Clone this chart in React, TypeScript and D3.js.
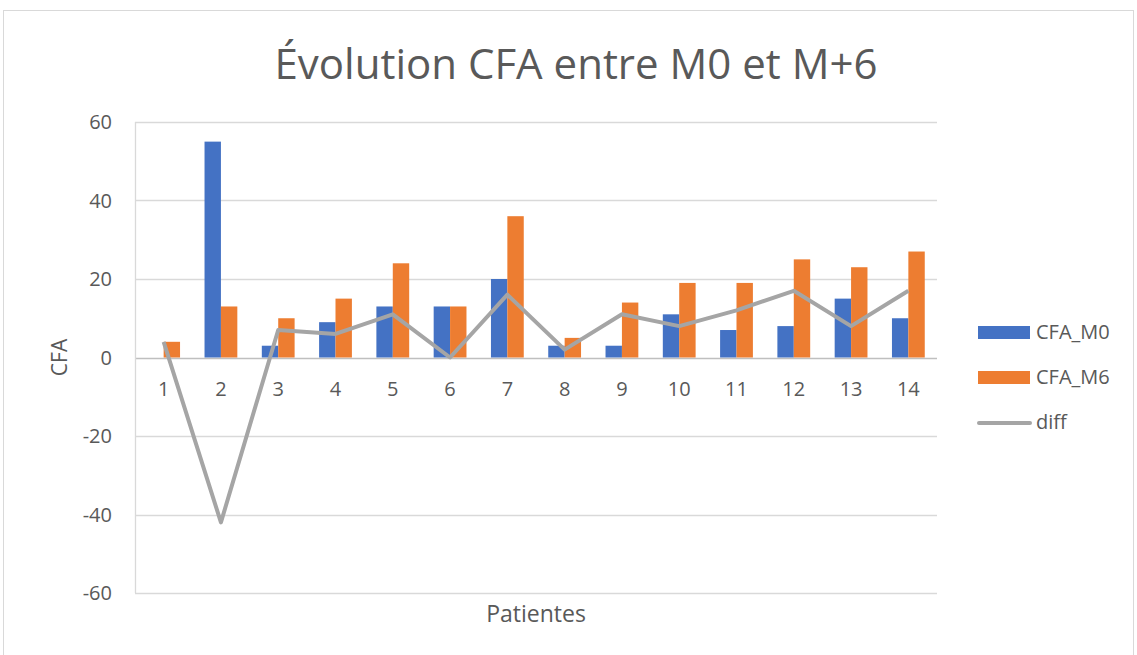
import React, { useEffect, useRef } from 'react'
import * as d3 from 'd3'

// patients 1..14
const patientes = ['1', '2', '3', '4', '5', '6', '7', '8', '9', '10', '11', '12', '13', '14']
const cfaM0 = [0, 55, 3, 9, 13, 13, 20, 3, 3, 11, 7, 8, 15, 10]
const cfaM6 = [4, 13, 10, 15, 24, 13, 36, 5, 14, 19, 19, 25, 23, 27]
const diff = [4, -42, 7, 6, 11, 0, 16, 2, 11, 8, 12, 17, 8, 17]
const yTicks = [-60, -40, -20, 0, 20, 40, 60]

const legendItems = [
  { name: 'CFA_M0', color: '#4472c4', type: 'bar' },
  { name: 'CFA_M6', color: '#ed7d31', type: 'bar' },
  { name: 'diff', color: '#a5a5a5', type: 'line' },
]

export default function App() {
  const ref = useRef<SVGSVGElement>(null)

  useEffect(() => {
    const W = 1137, H = 655
    const margin = { top: 122, right: 200, bottom: 62, left: 135 }
    const width = W - margin.left - margin.right
    const height = H - margin.top - margin.bottom
    const font = '"Open Sans", sans-serif'
    const textColor = '#595959'

    const svg = d3.select(ref.current)
    svg.selectAll('*').remove()

    // chart frame
    svg.append('rect')
      .attr('x', 3.5).attr('y', 10.5)
      .attr('width', W - 7).attr('height', H)
      .attr('fill', '#fff').attr('stroke', '#d9d9d9')

    svg.append('text')
      .attr('x', 576).attr('y', 79)
      .attr('text-anchor', 'middle')
      .attr('font-family', font).attr('font-size', 42)
      .attr('fill', textColor)
      .text('Évolution CFA entre M0 et M+6')

    const g = svg.append('g').attr('transform', `translate(${margin.left},${margin.top})`)

    const x = d3.scaleBand().domain(patientes).range([0, width])
    const y = d3.scaleLinear().domain([-60, 60]).range([height, 0])

    const barW = 16.4

    // gridlines
    g.selectAll('line.grid')
      .data(yTicks)
      .enter()
      .append('line')
      .attr('x1', 0).attr('x2', width)
      .attr('y1', d => Math.round(y(d)) + 0.5).attr('y2', d => Math.round(y(d)) + 0.5)
      .attr('stroke', d => d === 0 ? '#bfbfbf' : '#d9d9d9')
      .attr('stroke-width', d => d === 0 ? 1.5 : 1.3)

    // left axis line
    g.append('line')
      .attr('x1', 0.5).attr('x2', 0.5)
      .attr('y1', 0).attr('y2', height)
      .attr('stroke', '#d9d9d9').attr('stroke-width', 1.3)

    g.selectAll('text.ytick')
      .data(yTicks)
      .enter()
      .append('text')
      .attr('x', -23).attr('y', d => y(d) + 7)
      .attr('text-anchor', 'end')
      .attr('font-family', font).attr('font-size', 20)
      .attr('fill', textColor)
      .text(d => d)

    // bars
    patientes.forEach((p, i) => {
      const cx = (x(p) as number) + x.bandwidth() / 2
      g.append('rect')
        .attr('x', cx - barW)
        .attr('y', y(Math.max(0, cfaM0[i])))
        .attr('width', barW)
        .attr('height', Math.abs(y(cfaM0[i]) - y(0)))
        .attr('fill', '#4472c4')
      g.append('rect')
        .attr('x', cx)
        .attr('y', y(Math.max(0, cfaM6[i])))
        .attr('width', barW)
        .attr('height', Math.abs(y(cfaM6[i]) - y(0)))
        .attr('fill', '#ed7d31')
    })

    // category labels just under the zero line
    g.selectAll('text.xtick')
      .data(patientes)
      .enter()
      .append('text')
      .attr('x', d => (x(d) as number) + x.bandwidth() / 2)
      .attr('y', y(0) + 38)
      .attr('text-anchor', 'middle')
      .attr('font-family', font).attr('font-size', 20)
      .attr('fill', textColor)
      .text(d => d)

    const line = d3.line<number>()
      .x((d, i) => (x(patientes[i]) as number) + x.bandwidth() / 2)
      .y(d => y(d))

    g.append('path')
      .datum(diff)
      .attr('d', line)
      .attr('fill', 'none')
      .attr('stroke', '#a5a5a5')
      .attr('stroke-width', 4)
      .attr('stroke-linejoin', 'round')

    // axis titles
    svg.append('text')
      .attr('transform', `translate(67,${margin.top + y(0)}) rotate(-90)`)
      .attr('text-anchor', 'middle')
      .attr('font-family', font).attr('font-size', 21)
      .attr('fill', textColor)
      .text('CFA')

    svg.append('text')
      .attr('x', 536).attr('y', 622)
      .attr('text-anchor', 'middle')
      .attr('font-family', font).attr('font-size', 23)
      .attr('fill', textColor)
      .text('Patientes')

    // legend
    const leg = svg.append('g').attr('transform', 'translate(978,326)')
    legendItems.forEach((item, i) => {
      const row = leg.append('g').attr('transform', `translate(0,${i * 45})`)
      if (item.type === 'bar') {
        row.append('rect').attr('x', 0).attr('y', 0).attr('width', 52).attr('height', 13).attr('fill', item.color)
      } else {
        row.append('line').attr('x1', 1).attr('x2', 52).attr('y1', 7).attr('y2', 7)
          .attr('stroke', item.color).attr('stroke-width', 4).attr('stroke-linecap', 'round')
      }
      row.append('text')
        .attr('x', 58).attr('y', 13)
        .attr('font-family', font).attr('font-size', 20)
        .attr('fill', textColor)
        .text(item.name)
    })
  }, [])

  return (
    <svg ref={ref} width={1137} height={655} style={{ position: 'absolute', left: 0, top: 0 }} />
  )
}
